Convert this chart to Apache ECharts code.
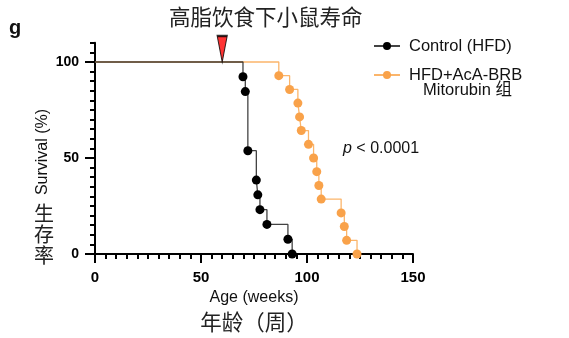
<!DOCTYPE html>
<html>
<head>
<meta charset="utf-8">
<script src="https://cdn.jsdelivr.net/npm/echarts@6/dist/echarts.min.js"></script>
<style>html,body{margin:0;padding:0;background:#fff;}#c{width:569px;height:338px;}</style>
</head>
<body>
<div id="c"></div>
<script>
const titleText = '高脂饮食下小鼠寿命';
const controlName = 'Control (HFD)';
const treatedName = 'HFD+AcA-BRB';
const treatedName2 = 'Mitorubin 组';
const controlWeeks = [0, 69.8, 70.9, 72.1, 76.1, 76.8, 77.8, 81.1, 91.0, 93.0];
const controlSurvival = [100, 92.3, 84.6, 53.8, 38.5, 30.8, 23.1, 15.4, 7.7, 0];
const treatedWeeks = [0, 86.7, 91.8, 95.7, 96.5, 97.3, 100.7, 103.1, 104.6, 105.6, 106.7, 116.1, 117.6, 118.7, 123.6];
const treatedSurvival = [100, 92.9, 85.7, 78.6, 71.4, 64.3, 57.1, 50, 42.9, 35.7, 28.6, 21.4, 14.3, 7.1, 0];
const markerWeek = [60];
const markerSurvival = [100];
const xTickLabels = [0, 50, 100, 150];
const yTickLabels = [0, 50, 100];

const EN = "'Liberation Sans', Arial, sans-serif";
const CJK = "'Liberation Sans', 'Noto Sans CJK SC', sans-serif";

function kmData(xs, ys) {
  return xs.map((x, i) => i === 0 ? { value: [x, ys[i]], symbol: 'none' } : [x, ys[i]]);
}

const chart = echarts.init(document.getElementById('c'), null, { renderer: 'canvas' });
chart.setOption({
  animation: false,
  backgroundColor: '#fff',
  title: {
    text: titleText, left: 164, top: 1,
    textStyle: { fontFamily: "'Noto Sans CJK SC', sans-serif", fontSize: 21.5, fontWeight: 'normal', color: '#222' }
  },
  grid: { left: 95, right: 156, top: 42.8, bottom: 84, containLabel: false },
  legend: {
    orient: 'vertical', left: 368, top: 32, itemGap: 11,
    itemWidth: 26, itemHeight: 10,
    data: [controlName, treatedName],
    textStyle: { fontFamily: EN, fontSize: 16.5, color: '#111', lineHeight: 18, padding: [0, 0, 0, 4] }
  },
  xAxis: [{
    type: 'value', min: 0, max: 150, interval: 5,
    axisLine: { show: true, onZero: false, lineStyle: { color: '#000', width: 2 } },
    axisTick: { show: true, length: 5, lineStyle: { color: '#000', width: 2 } },
    axisLabel: { customValues: xTickLabels, margin: 16, fontFamily: EN, fontSize: 15, fontWeight: 'bold', color: '#000' },
    splitLine: { show: false },
    name: '{a|Age (weeks)}\n{b|年龄（周）}', nameLocation: 'middle', nameGap: 30,
    nameTextStyle: {
      rich: {
        a: { fontFamily: EN, fontSize: 16, lineHeight: 18, color: '#111' },
        b: { fontFamily: "'Noto Sans CJK SC', sans-serif", fontSize: 21.5, lineHeight: 29, color: '#222' }
      }
    }
  }, {
    type: 'value', min: 0, max: 150, position: 'bottom',
    axisLine: { show: false },
    axisTick: { show: true, customValues: xTickLabels, length: 9, lineStyle: { color: '#000', width: 2 } },
    axisLabel: { show: false }, splitLine: { show: false }
  }],
  yAxis: [{
    type: 'value', min: 0, max: 110, interval: 5,
    axisLine: { show: true, onZero: false, lineStyle: { color: '#000', width: 2 } },
    axisTick: { show: true, length: 5, lineStyle: { color: '#000', width: 2 } },
    axisLabel: { customValues: yTickLabels, margin: 16, fontFamily: EN, fontSize: 14, fontWeight: 'bold', color: '#000' },
    splitLine: { show: false }
  }, {
    type: 'value', min: 0, max: 110, position: 'left',
    axisLine: { show: false },
    axisTick: { show: true, customValues: yTickLabels, length: 10, lineStyle: { color: '#000', width: 2 } },
    axisLabel: { show: false }, splitLine: { show: false }
  }],
  series: [{
    name: treatedName, type: 'line', step: 'end',
    data: kmData(treatedWeeks, treatedSurvival),
    symbol: 'circle', symbolSize: 9,
    lineStyle: { color: '#fbb56b', width: 1.3 },
    itemStyle: { color: '#f9a24a' },
    z: 2
  }, {
    name: controlName, type: 'line', step: 'end',
    data: kmData(controlWeeks, controlSurvival),
    symbol: 'circle', symbolSize: 9,
    lineStyle: { color: '#222', width: 1.3, opacity: 0.85 },
    itemStyle: { color: '#000' },
    z: 3
  }, {
    name: 'marker', type: 'scatter',
    data: markerWeek.map((w, i) => [w, markerSurvival[i]]),
    symbol: 'triangle', symbolRotate: 180, symbolSize: [10, 26], symbolOffset: [0, -13],
    itemStyle: { color: '#ff0000', borderColor: '#000', borderWidth: 1.5 },
    z: 5, silent: true
  }],
  graphic: [
    { type: 'text', left: 9, top: 18, style: { text: 'g', fontFamily: EN, fontSize: 20, fontWeight: 'bold', fill: '#111' } },
    { type: 'text', x: 423, y: 90, style: { text: treatedName2, fontFamily: CJK, fontSize: 16.5, fill: '#111', textVerticalAlign: 'middle' } },
    { type: 'text', x: 343, y: 149, style: {
        text: '{i|p} < 0.0001', fill: '#111', textVerticalAlign: 'middle',
        rich: { i: { fontFamily: EN, fontSize: 16, fontStyle: 'italic', fill: '#111' } },
        fontFamily: EN, fontSize: 16 } },
    { type: 'text', x: 43, y: 152, rotation: Math.PI / 2, style: {
        text: 'Survival (%)', fontFamily: EN, fontSize: 16, fill: '#111', align: 'center', verticalAlign: 'middle' } },
    { type: 'text', x: 44, y: 234, style: {
        text: '生\n存\n率', fontFamily: "'Noto Sans CJK SC', sans-serif", fontSize: 20, lineHeight: 21, fill: '#222', align: 'center', verticalAlign: 'middle' } }
  ]
});
</script>
</body>
</html>
